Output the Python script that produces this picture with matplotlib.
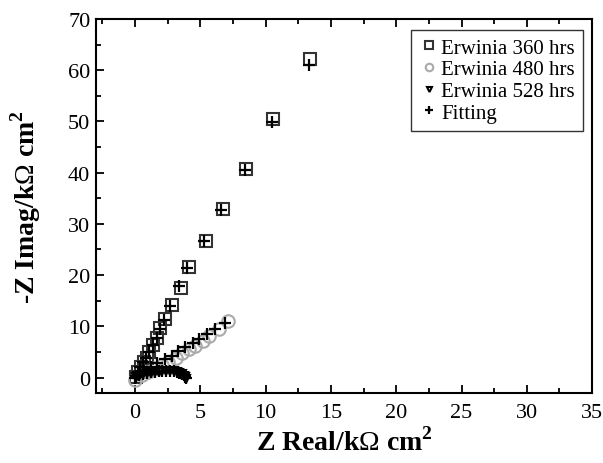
import matplotlib
matplotlib.use("Agg")
import matplotlib.pyplot as plt
from matplotlib.ticker import MultipleLocator

plt.rcParams['font.family'] = ['Liberation Serif', 'DejaVu Serif']
plt.rcParams['mathtext.fontset'] = 'custom'
plt.rcParams['mathtext.rm'] = 'Liberation Serif'
plt.rcParams['mathtext.bf'] = 'Liberation Serif:bold'

# Erwinia 360 hrs
x360 = [0.05, 0.25, 0.45, 0.65, 0.9, 1.1, 1.4, 1.7, 1.9, 2.3, 2.8, 3.5, 4.1, 5.4, 6.7, 8.5, 10.6, 13.4]
y360 = [0.1, 1.1, 2.1, 3.1, 3.9, 5.0, 6.4, 7.8, 9.7, 11.5, 14.1, 17.5, 21.5, 26.7, 33.0, 40.8, 50.4, 62.2]
fx360 = [0.05, 0.2, 0.4, 0.6, 0.85, 1.05, 1.35, 1.65, 1.9, 2.2, 2.7, 3.35, 4.0, 5.3, 6.6, 8.4, 10.5, 13.3]
fy360 = [0.1, 1.1, 2.1, 3.1, 3.9, 5.0, 6.3, 7.7, 9.4, 11.2, 14.0, 17.8, 21.4, 26.6, 32.8, 40.6, 49.8, 61.0]

# Erwinia 480 hrs
x480 = [0.0, 0.5, 1.0, 1.5, 2.1, 2.5, 3.1, 3.6, 4.1, 4.6, 5.2, 5.7, 6.4, 7.1]
y480 = [-0.4, 0.5, 1.1, 1.9, 2.5, 3.1, 3.9, 4.8, 5.5, 6.2, 7.1, 8.2, 9.5, 11.0]
fx480 = [0.0, 0.3, 0.7, 1.2, 1.7, 2.3, 2.8, 3.3, 3.8, 4.4, 4.9, 5.5, 6.1, 6.9]
fy480 = [0.0, 0.6, 1.3, 2.0, 2.8, 3.6, 4.2, 5.1, 5.9, 6.7, 7.6, 8.5, 9.5, 10.7]

# Erwinia 528 hrs
x528 = [0.1, 0.3, 0.6, 0.9, 1.2, 1.5, 1.8, 2.1, 2.4, 2.7, 3.0, 3.2, 3.4, 3.6, 3.75, 3.85, 3.9]
y528 = [0.2, 0.4, 0.6, 0.8, 0.9, 1.0, 1.1, 1.2, 1.3, 1.3, 1.2, 1.1, 0.9, 0.7, 0.4, 0.1, -0.2]
fx528 = [0.1, 0.3, 0.6, 0.9, 1.2, 1.5, 1.8, 2.1, 2.4, 2.7, 3.0, 3.2, 3.4, 3.6, 3.75, 3.85, 3.9]
fy528 = [0.3, 0.5, 0.7, 0.9, 1.0, 1.1, 1.2, 1.3, 1.35, 1.35, 1.25, 1.1, 0.95, 0.75, 0.45, 0.15, -0.1]

fig = plt.figure(figsize=(6.03, 4.64), dpi=100)
ax = fig.add_axes([0.159, 0.151, 0.823, 0.806])

ax.plot(x360, y360, linestyle='none', marker='s', markersize=9, markerfacecolor='none',
        markeredgecolor='#333333', markeredgewidth=1.5, label='Erwinia 360 hrs')
ax.plot(x480, y480, linestyle='none', marker='o', markersize=9, markerfacecolor='none',
        markeredgecolor='#aaaaaa', markeredgewidth=1.5, label='Erwinia 480 hrs')
ax.plot(x528, y528, linestyle='none', marker='v', markersize=6, markerfacecolor='none',
        markeredgecolor='black', markeredgewidth=1.5, label='Erwinia 528 hrs')
ax.plot(fx360, fy360, linestyle='none', marker='+', markersize=9, color='black',
        markeredgewidth=1.6, label='Fitting')
ax.plot(fx480, fy480, linestyle='none', marker='+', markersize=9, color='black',
        markeredgewidth=1.6)
ax.plot(fx528, fy528, linestyle='none', marker='+', markersize=8, color='black',
        markeredgewidth=1.6)

ax.set_xlim(-3, 35)
ax.set_ylim(-3, 70)
ax.xaxis.set_major_locator(MultipleLocator(5))
ax.xaxis.set_minor_locator(MultipleLocator(2.5))
ax.yaxis.set_major_locator(MultipleLocator(10))
ax.yaxis.set_minor_locator(MultipleLocator(5))
ax.tick_params(which='both', direction='in', top=True, right=False, width=1.3,
               labelsize=16)
ax.tick_params(which='major', length=6)
ax.tick_params(which='minor', length=3.5)
ax.tick_params(axis='x', pad=7)
ax.tick_params(axis='y', pad=4)
for s in ax.spines.values():
    s.set_linewidth(1.5)

ax.set_xlabel(r'Z Real/k$\Omega$ cm$^{\mathbf{2}}$', fontsize=20, fontweight='bold', labelpad=4)
ax.set_ylabel(r'-Z Imag/k$\Omega$ cm$^{\mathbf{2}}$', fontsize=20, fontweight='bold', labelpad=18)

leg = ax.legend(loc='upper right', bbox_to_anchor=(0.982, 0.971), borderaxespad=0,
                fontsize=15, frameon=True, fancybox=False, edgecolor='black',
                handlelength=0.9, handletextpad=0.15, borderpad=0.4, labelspacing=0.1,
                markerscale=0.6)
leg.get_frame().set_linewidth(1.0)

fig.savefig('out.png', dpi=100)
